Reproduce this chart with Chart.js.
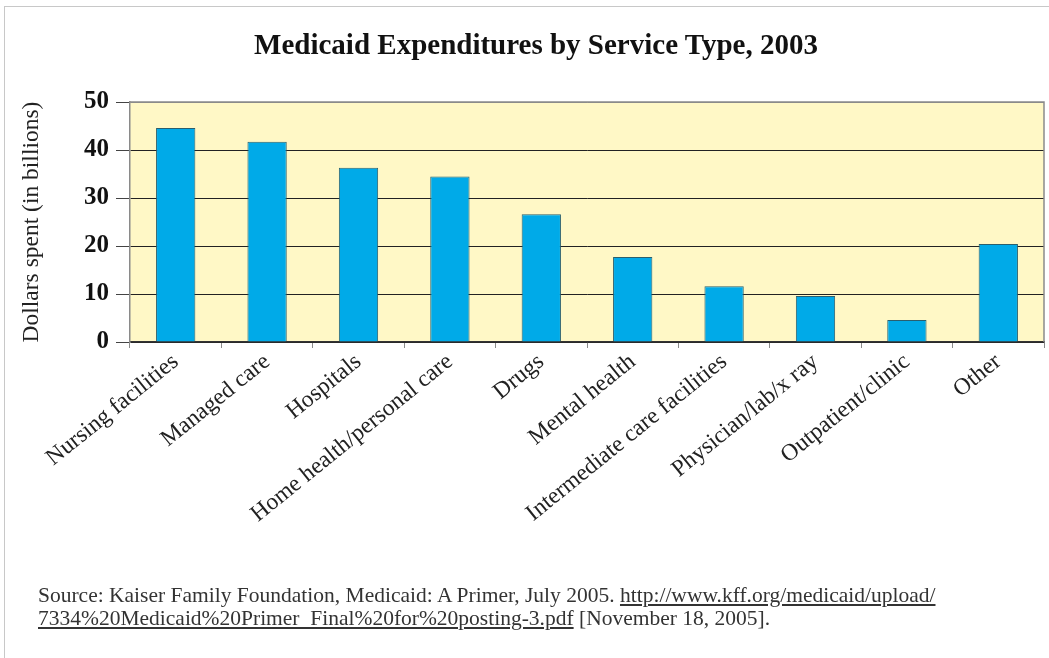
<!DOCTYPE html>
<html>
<head>
<meta charset="utf-8">
<script src="https://cdn.jsdelivr.net/npm/chart.js@4.4.1/dist/chart.umd.min.js"></script>
<style>
  html, body { margin: 0; padding: 0; background: #fff; }
  #wrap { position: relative; width: 1049px; height: 658px; overflow: hidden; }
  #frame { position: absolute; left: 4px; top: 6px; width: 1100px; height: 700px;
           border-left: 1px solid #c8c8c8; border-top: 1px solid #c8c8c8; }
  canvas { position: absolute; left: 0; top: 0; }
  #title { position: absolute; left: 0; top: 30px; width: 1072px; text-align: center;
           font-family: "Liberation Serif", serif; font-weight: bold; font-size: 29px;
           line-height: 29px; color: #111; white-space: nowrap; }
  #source { position: absolute; left: 38px; top: 584px; font-family: "Liberation Serif", serif;
            font-size: 21.5px; line-height: 23px; color: #333; white-space: nowrap; }
  #source a { color: #333; text-decoration: underline; }
</style>
</head>
<body>
<div id="wrap">
  <div id="frame"></div>
  <canvas id="chart" width="1049" height="658"></canvas>
  <div id="title">Medicaid Expenditures by Service Type, 2003</div>
  <div id="source">Source: Kaiser Family Foundation, Medicaid: A Primer, July 2005. <a>http://www.kff.org/medicaid/upload/</a><br><a>7334%20Medicaid%20Primer_Final%20for%20posting-3.pdf</a> [November 18, 2005].</div>
</div>
<script>
// Medicaid spending by service type, 2003 (billions of dollars)
const categories = [
  'Nursing facilities', 'Managed care', 'Hospitals', 'Home health/personal care',
  'Drugs', 'Mental health', 'Intermediate care facilities', 'Physician/lab/x ray',
  'Outpatient/clinic', 'Other'
];
const spending = [44.6, 41.7, 36.3, 34.5, 26.6, 17.7, 11.6, 9.6, 4.6, 20.4];
const yTicks = [0, 10, 20, 30, 40, 50];

const serif = '"Liberation Serif", "Times New Roman", serif';

// pale yellow plot background plus the grey frame on the top and right
const plotFrame = {
  id: 'plotFrame',
  beforeDraw(chart) {
    const { ctx, chartArea: a } = chart;
    ctx.save();
    ctx.fillStyle = '#fff8c6';
    ctx.fillRect(a.left, a.top, a.right - a.left, a.bottom - a.top);
    ctx.restore();
  },
  afterDatasetsDraw(chart) {
    const { ctx, chartArea: a } = chart;
    ctx.save();
    ctx.strokeStyle = '#8a8a8a';
    ctx.lineWidth = 1.5;
    ctx.beginPath();
    ctx.moveTo(a.left, a.top);
    ctx.lineTo(a.right, a.top);
    ctx.lineTo(a.right, a.bottom);
    ctx.stroke();
    ctx.restore();
  }
};

new Chart(document.getElementById('chart'), {
  type: 'bar',
  data: {
    labels: categories,
    datasets: [{
      data: spending,
      backgroundColor: '#00aae8',
      borderColor: '#2a5f6e',
      borderWidth: 1,
      borderSkipped: 'bottom',
      barPercentage: 0.43,
      categoryPercentage: 1.0
    }]
  },
  options: {
    responsive: false,
    animation: false,
    layout: { padding: { left: 0, right: 5, top: 102, bottom: 0 } },
    plugins: {
      legend: { display: false },
      tooltip: { enabled: false },
      title: { display: false }
    },
    scales: {
      x: {
        grid: { display: true, drawOnChartArea: false, drawTicks: true, tickLength: 6,
                tickColor: '#8a8a8a', offset: true },
        border: { display: true, color: '#333', width: 1.5 },
        ticks: {
          color: '#222',
          font: { family: serif, size: 23.5 },
          maxRotation: 39, minRotation: 39,
          autoSkip: false,
          padding: 0
        },
        afterFit(scale) { scale.height = 316; }
      },
      y: {
        min: 0, max: 50,
        afterBuildTicks(scale) { scale.ticks = yTicks.map(v => ({ value: v })); },
        grid: { color: ctx => ctx.tick && ctx.tick.value === 50 ? '#8a8a8a' : '#222',
                lineWidth: 1, tickLength: 14, tickColor: '#444' },
        border: { display: true, color: '#8a8a8a', width: 1.5 },
        ticks: {
          color: '#111',
          font: { family: serif, size: 25, weight: 'bold' },
          padding: 7
        },
        title: {
          display: true,
          text: 'Dollars spent (in billions)',
          color: '#222',
          font: { family: serif, size: 23.5 },
          padding: { top: 18, bottom: 0 }
        },
        afterFit(scale) { scale.width = 130; }
      }
    }
  },
  plugins: [plotFrame]
});
</script>
</body>
</html>
